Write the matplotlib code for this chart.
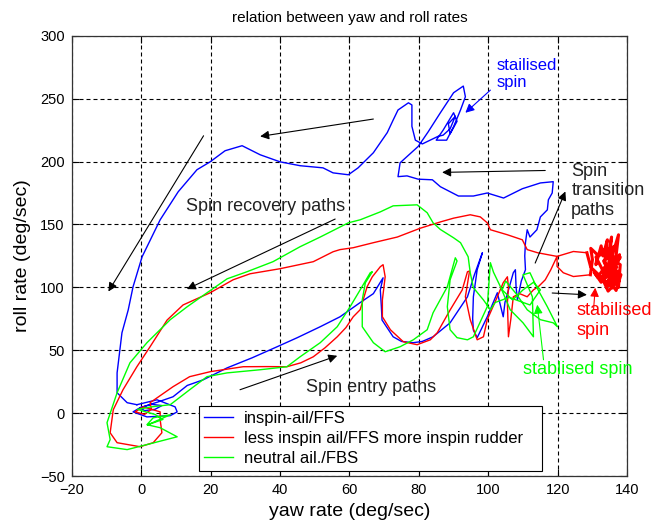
import matplotlib
matplotlib.use("Agg")
import matplotlib.pyplot as plt

# ---- data (yaw rate, roll rate in deg/sec) ----
blue_x = [-1.2, 4.6, 9.8, 10.4, 8.4, 1.7, -2.3, -0.3, 3, 6, 4, 1, -0.3,
          5, 9.2, 13.3, 17.9, 24.8, 32, 39.2, 45, 51.6, 57.3, 63, 66.9, 69.7,
          68.9, 69.2, 69.4, 72.6, 75, 78.4, 81, 84.1, 89, 94, 96, 98.3,
          96.8, 95.7, 95.5, 95.7, 96.8,
          99.7, 102.6, 104.3, 104.8, 107.2, 107.8, 108, 108.4, 109.5, 110.7, 110.5, 110.7,
          111.2, 112, 114, 115, 117, 117.3, 118.4, 118.7,
          115, 109.8, 104.4, 99.7, 95.7, 91.4, 86.2, 83.9, 79.8, 76.6, 74, 74.6, 76.6, 79.8,
          82.7, 86.2, 90, 92.8, 93.4, 92, 90, 88, 85, 87, 90, 91, 89, 88.5, 90.5, 89, 87, 85.5,
          81, 79, 78, 78, 77, 74, 72.6, 70.9, 66.9, 62.5,
          59.7, 55.3, 52.4, 45.8, 40, 34.3, 29.1, 24.2, 19.9, 16.1, 10.7, 5.5, 0.3,
          -2.3, -3.7, -5.5, -6.9, -6.9, -4, -1.2]
blue_y = [6.7, 10.6, 5, 1, -2, -3, 1, 4.3, 7, 6, 3, 2, 4.3,
          9, 13, 22, 26.5, 36, 44, 52.8, 60, 68.7, 76.6, 87.7, 95, 107.6,
          98, 85, 74, 60.7, 57, 56, 57, 60.7, 71.8, 92.5, 110, 127.5,
          114, 92.5, 75, 66, 60,
          76.6, 95.7, 76.6, 88, 111.6, 114, 100, 90, 105, 114, 125, 135.5,
          145.8, 140, 145.8, 156, 161.6, 169.6, 175, 184,
          183, 178.4, 171, 175, 172.6, 172.6, 180, 185.5, 186, 188.6, 188, 199, 204, 212,
          223.7, 238.8, 254.7, 260, 251.5, 241, 227.7, 217, 217, 225, 238.8, 232, 222, 230, 236, 226, 221, 220,
          214, 217, 228, 245, 246.7, 241, 233, 223, 207, 195,
          189.5, 191, 195, 196.7, 199.8, 205.4, 212.6, 208.6, 199.8, 193.5, 176, 153.7, 124.3,
          100.5, 82, 63.9, 32, 16.2, 8.3, 6.7]

# red: entry + oscillations, stabilised blob, recovery
red_entry_x = [5.5, 5.5, 0.6, -1.7, 1, 3, 2.6,
               9.2, 14, 20, 29.4, 36, 42, 46, 49.6, 53, 56.5, 59, 61.1, 63.1, 65.1, 66.6, 68.9, 69.7,
               70.3, 69.5, 69.5, 71.8, 75.5, 79.5, 83.3, 85.3, 89, 92.5, 94, 94.6,
               93.4, 94.8, 96.8, 98.6, 99.7, 102.6, 104.3, 105.5, 105.8, 105.5, 105.8, 106.5, 107.2,
               109, 111.2, 113, 114.4, 116.4, 118, 119.8, 119.8, 121.6, 124.5]
red_entry_y = [-5.2, 1, 5, 1, -1, 3, 8.3,
               21, 29, 33, 36.9, 37, 36.9, 40, 44.8, 52, 60.7, 68, 76.6, 82.2, 100.5, 108.4, 116.4, 118,
               108.4, 90, 76.6, 66.3, 56.8, 54.4, 58.3, 63.9, 82, 98, 112.4, 113,
               92.5, 74.3, 58.3, 60.7, 74.3, 92.5, 103.7, 108.4, 100, 87.8, 60.7, 75, 92.5,
               95, 92.5, 98, 100.5, 106, 114, 124.6, 116.6, 111.6, 108.6]
red_blob_x = [129.4, 130, 129.5, 131.4, 131, 132.5, 133, 134.3, 133.5, 135, 135.5, 134.5, 136, 137.5,
              136.5, 137.8, 135, 136.5, 134, 136, 137.5, 138, 136, 133.5, 135.5, 137, 134.5,
              133, 135, 138.2, 136.8, 135.5, 133.5, 131.5, 130.5, 132.5, 134, 136, 137.5, 135,
              133, 134.5, 136.5, 133.8, 131, 134, 137, 135.5, 137.8, 134.8, 136.2, 138, 135,
              133.2, 136.8, 134, 137.2, 135.8, 129.5, 128.4]
red_blob_y = [110, 122, 131, 126, 118, 133, 125, 137.8, 120, 132, 140, 114, 128, 141.8,
              118, 126, 105, 112, 100, 108, 100, 118, 122, 110, 116, 104, 97,
              106, 112, 110, 97.5, 103, 116, 108, 112, 104, 118, 114, 122, 126,
              130, 123, 133, 128, 124, 108, 116, 120, 106, 102, 118, 124, 110,
              121, 110, 104, 113, 99.5, 116, 127.5]
red_recovery_x = [124.5, 119.8, 114.2, 111.2, 109.8, 105.5, 100.6, 99.7, 97.7, 94.8, 90, 86.2,
                  80.4, 73.8, 66.9, 61.1, 57.3, 55.3, 49.6, 40, 31.4, 26.5, 19.9, 12.1, 7.5, 2.6,
                  -1.2, -5.2, -8, -8.9, -6.9, -0.3, 3.5, 6, 5.5]
red_recovery_y = [128.5, 124.6, 127.5, 130, 137.8, 141.8, 145.8, 151.3, 156, 157.7, 155, 152,
                  147, 140, 135.5, 131.5, 130, 128.3, 120.4, 114.8, 110.8, 106, 95.7, 86, 74, 52.8,
                  36.9, 18.6, 2.7, -15.6, -23.5, -26.7, -23.5, -15.6, -5.2]

green_x = [2, 6.3, 4, 0.6, -1, 3, 8.4,
           14, 19, 24.8, 34.3, 42, 45.8, 51.6, 56.5, 60.2, 63.1, 66, 66.6, 64.6, 63.7, 63.7,
           66.9, 70.3, 74.6, 78.4, 82.4, 84.1, 88.2, 90.5, 91, 89, 88.2, 89, 91, 94, 95.7,
           99.7, 100.6, 101.5, 103.5, 106.3, 110, 113, 112.7, 110, 112, 114, 117, 119.9,
           118.7, 115, 111.2, 108, 105, 104, 107, 110, 113, 115, 112, 106, 102, 100.6,
           98.6, 95.7, 94.8, 94.2, 92, 90, 86.2, 84.1, 82.4, 79.5, 72.6, 68.9, 63.1, 59.7,
           51.6, 45.8, 38, 30.5, 24.8, 19, 13.3, 8.4, 1.7, -3.2, -6.9, -9.8, -8.9, -9.8,
           -4, 1.7, 10.4, 5.5, 1.7, 3.5, 8.4, 2]
green_y = [-9.2, -5, -1, 1.6, 3, 5, 6.7,
           18.6, 29, 32, 34.5, 36.9, 44.8, 56, 68.7, 84.6, 98, 111.6, 112.4, 103.7, 90, 68.7,
           56, 48.8, 52.8, 58.3, 66.3, 79.8, 100.5, 123.5, 121, 106, 84.6, 66.3, 60, 58.3, 60.7,
           84.6, 119.6, 112, 100.5, 82.2, 71.8, 60.7, 92.5, 110, 111.6, 99.7, 84.6, 68.7,
           71.8, 74.3, 82.2, 95, 105, 98, 90, 98, 104, 98, 86, 92, 88, 82.2,
           90, 99.7, 111.6, 124.3, 135.5, 139.4, 146, 151.3, 159.3, 165.6, 164.8, 160, 153.7, 151.3,
           140, 132.3, 120.4, 112.4, 106.8, 95.7, 84.6, 74.3, 56, 40, 16.2, -7.6, -21, -26.7,
           -29, -25, -18.8, -11.6, -9.2, -3.7, -1.3, -9.2]

series_labels = ["inspin-ail/FFS",
                 "less inspin ail/FFS more inspin rudder",
                 "neutral ail./FBS"]
x_ticks = [-20, 0, 20, 40, 60, 80, 100, 120, 140]
y_ticks = [-50, 0, 50, 100, 150, 200, 250, 300]

# black annotation arrows: (tail x, tail y, head x, head y)
black_arrows = [(66.9, 233.8, 34.3, 220.0),
                (18.0, 220.5, -9.4, 96.7),
                (55.9, 154.3, 13.2, 98.6),
                (116.4, 192.9, 86.7, 191.4),
                (113.5, 119.3, 122.2, 176.2),
                (28.5, 18.6, 56.5, 45.6),
                (118.4, 95.5, 128.4, 94.1)]

plt.rcParams['font.family'] = ['Liberation Sans', 'DejaVu Sans']

fig = plt.figure(figsize=(6.63, 5.26), dpi=100)
ax = fig.add_axes([0.108, 0.095, 0.838, 0.837])

red_x = red_entry_x + red_blob_x + red_recovery_x
red_y = red_entry_y + red_blob_y + red_recovery_y

ax.plot(blue_x, blue_y, color=(0, 0, 1), lw=1, label=series_labels[0])
ax.plot(red_x, red_y, color=(1, 0, 0), lw=1, label=series_labels[1])
ax.plot(red_blob_x, red_blob_y, color=(1, 0, 0), lw=2.2)
ax.plot(green_x, green_y, color=(0, 1, 0), lw=1, label=series_labels[2])

ax.set_xlim(-20, 140)
ax.set_ylim(-50, 300)
ax.set_xticks(x_ticks)
ax.set_yticks(y_ticks)
ax.grid(True, color='black', lw=0.8, linestyle=(0, (3.6, 2.7)))
ax.tick_params(direction='in', top=True, right=True, length=5, labelsize=10.5, pad=5)
for s in ax.spines.values():
    s.set_color('#333333')
    s.set_linewidth(0.9)

ax.set_title("relation between yaw and roll rates", fontsize=11, pad=10)
ax.set_xlabel("yaw rate (deg/sec)", fontsize=14, labelpad=4)
ax.set_ylabel("roll rate (deg/sec)", fontsize=14, labelpad=6)

for x0, y0, x1, y1 in black_arrows:
    ax.annotate("", xy=(x1, y1), xytext=(x0, y0),
                arrowprops=dict(arrowstyle='-|>', color='black', lw=0.8,
                                mutation_scale=13, shrinkA=0, shrinkB=0))
ax.annotate("", xy=(93.4, 238.8), xytext=(100.6, 256.8),
            arrowprops=dict(arrowstyle='-|>', color='blue', lw=0.8,
                            mutation_scale=13, shrinkA=0, shrinkB=0))
ax.annotate("", xy=(130.8, 99.7), xytext=(130.3, 82),
            arrowprops=dict(arrowstyle='-|>', color='red', lw=0.8,
                            mutation_scale=13, shrinkA=0, shrinkB=0))
ax.annotate("", xy=(114.1, 86.2), xytext=(115.9, 42.4),
            arrowprops=dict(arrowstyle='-|>', color=(0, 1, 0), lw=0.8,
                            mutation_scale=13, shrinkA=0, shrinkB=0))

ax.text(13, 164, "Spin recovery paths", fontsize=13, color='#222222', ha='left', va='center')
ax.text(47.6, 20.2, "Spin entry paths", fontsize=13, color='#222222', ha='left', va='center')
ax.text(123.9, 176.8, "Spin\ntransition\npaths", fontsize=13, color='#222222',
        ha='left', va='center', linespacing=1.2)
ax.text(102.5, 269.8, "stailised\nspin", fontsize=12, color='blue', ha='left', va='center')
ax.text(125.4, 73.5, "stabilised\nspin", fontsize=13, color='red', ha='left', va='center')
ax.text(110.1, 34.9, "stablised spin", fontsize=13, color=(0, 1, 0), ha='left', va='center')

leg = ax.legend(loc='lower left', bbox_to_anchor=(0.229, 0.011, 0.617, 0.153), mode='expand',
                borderaxespad=0, fontsize=12, handlelength=1.75, handletextpad=0.65,
                labelspacing=0.32, borderpad=0.3, fancybox=False, framealpha=1)
leg.get_frame().set_edgecolor('black')
leg.get_frame().set_linewidth(0.8)

fig.savefig("out.png", dpi=100)
